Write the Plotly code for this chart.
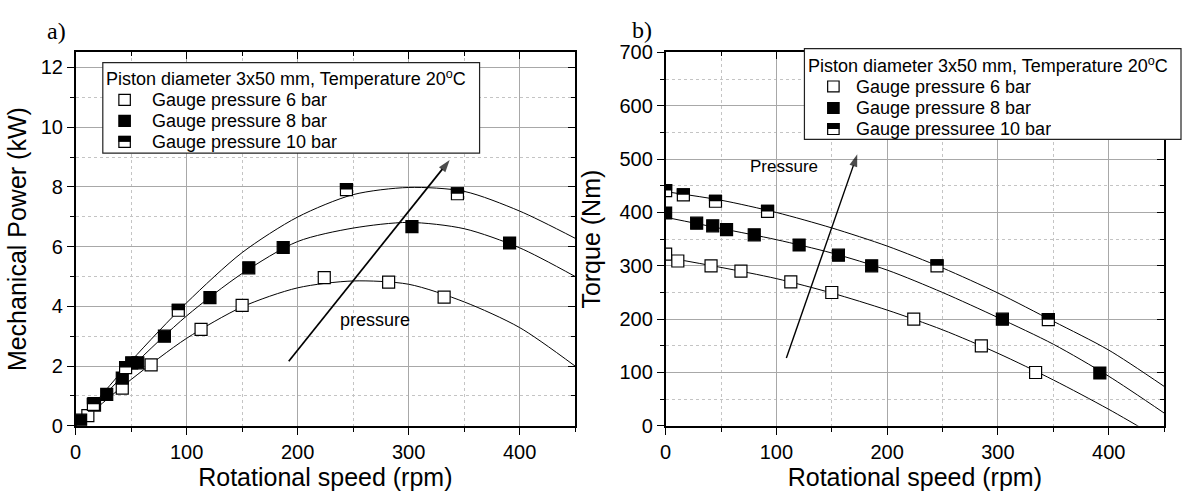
import plotly.graph_objects as go

W, H = 1182, 493

# ---------------- data ----------------
# panel a) mechanical power
speed_p6 = [11, 17, 42, 68, 113, 150, 224, 282, 332]
power_p6 = [0.34, 0.69, 1.26, 2.04, 3.23, 4.03, 4.96, 4.81, 4.31]
speed_p8 = [4.5, 16.5, 28, 42, 50.5, 56, 80, 121, 156, 187, 303, 391]
power_p8 = [0.19, 0.74, 1.05, 1.60, 2.11, 2.11, 3.00, 4.29, 5.29, 5.97, 6.67, 6.12]
speed_p10 = [16, 45, 92.5, 244, 344]
power_p10 = [0.72, 1.95, 3.87, 7.91, 7.77]

fit_speed = [0, 50, 100, 150, 200, 250, 300, 350, 400, 450]
fit_power6 = [0, 1.55, 2.93, 3.98, 4.62, 4.85, 4.74, 4.15, 3.29, 2.00]
fit_power8 = [0, 1.95, 3.68, 5.10, 6.17, 6.62, 6.81, 6.60, 5.96, 5.00]
fit_power10 = [0, 2.17, 4.12, 5.80, 6.99, 7.74, 7.98, 7.85, 7.19, 6.28]

# panel b) torque
speed_t6 = [0, 11, 41, 68, 113, 150, 224, 285, 334]
torque_t6 = [322, 309, 300, 290, 270, 250, 200, 150, 100]
speed_t8 = [0, 28, 42.5, 55, 80, 120.5, 156, 186, 304, 392]
torque_t8 = [399, 380, 375, 368, 358, 339, 320, 300, 200, 99]
speed_t10 = [0, 16, 45, 92, 245, 345.5]
torque_t10 = [441, 433, 421, 402, 300, 199]

fit_torque6 = [316, 297, 276, 249, 217, 180, 136, 86, 31, -29]
fit_torque8 = [391, 370, 349, 324, 292, 250, 203, 153, 93, 24]
fit_torque10 = [439, 423, 400, 371, 337, 296, 249, 196, 142, 74]

# "pressure" arrows: [tail, head]
arrow_power_speed = [192, 337]
arrow_power_value = [2.16, 8.9]
arrow_torque_speed = [109, 173]
arrow_torque_value = [127, 509]

legend_title = "Piston diameter 3x50 mm, Temperature 20<sup>o</sup>C"
legend_a = ["Gauge pressure 6 bar", "Gauge pressure 8 bar", "Gauge pressure 10 bar"]
legend_b = ["Gauge pressure 6 bar", "Gauge pressure 8 bar", "Gauge pressuree 10 bar"]

# ---------------- layout helpers ----------------
FONT = "Liberation Sans, Arial, sans-serif"
SERIF = "Liberation Serif, Times New Roman, serif"


def px(x):
    return x / W


def py(y):
    return 1 - y / H


dom_y = [py(434.2), py(43.4)]
dom_xa = [px(70), px(572)]
dom_xb = [px(663), px(1164)]

GRID = "#a8a8a8"
MINORGRID = "#c4c4c4"
MS = 12  # marker size


def base_axis(rng, dtick, mdtick, title, standoff):
    return dict(
        range=rng, dtick=dtick, tick0=0, autorange=False,
        showline=True, linecolor="black", linewidth=1.5, mirror=True,
        ticks="outside", ticklen=7, tickwidth=1.3, tickcolor="black",
        showgrid=True, gridcolor=GRID, gridwidth=1, zeroline=False,
        tickfont=dict(family=FONT, size=20, color="black"),
        title=dict(text=title, font=dict(family=FONT, size=25, color="black"),
                   standoff=standoff),
        minor=dict(dtick=mdtick, tick0=0, ticks="outside", ticklen=4,
                   tickwidth=1.1, tickcolor="black", showgrid=True,
                   gridcolor=MINORGRID, griddash="dot", gridwidth=1),
    )


def overlay_axis(rng, dtick, mdtick, side, over, anchor):
    return dict(
        range=rng, dtick=dtick, tick0=0, autorange=False, overlaying=over,
        side=side, anchor=anchor, showline=False, showgrid=False,
        zeroline=False, showticklabels=False,
        title=dict(text="\u00a0", font=dict(size=1, color="rgba(0,0,0,0)"),
                   standoff=0),
        ticks="inside", ticklen=7, tickwidth=1.3, tickcolor="black",
        minor=dict(dtick=mdtick, tick0=0, ticks="inside", ticklen=4,
                   tickwidth=1.1, tickcolor="black", showgrid=False),
    )


fig = go.Figure()


def add_panel(xa, ya, fit_vals, s6, v6, s8, v8, s10, v10, arr_s, arr_v, arr_w):
    for fv in fit_vals:
        fig.add_trace(go.Scatter(
            x=fit_speed, y=fv, mode="lines", xaxis=xa, yaxis=ya,
            line=dict(color="black", width=1, shape="spline", smoothing=0.8),
            showlegend=False, hoverinfo="skip"))
    # arrow
    fig.add_trace(go.Scatter(
        x=arr_s, y=arr_v, mode="lines+markers", xaxis=xa, yaxis=ya,
        line=dict(color="black", width=arr_w), showlegend=False,
        hoverinfo="skip",
        marker=dict(symbol=["circle", "arrow"], size=[0, 13], color="black",
                    angleref="previous", line=dict(width=0))))
    fig.add_trace(go.Scatter(
        x=s6, y=v6, mode="markers", xaxis=xa, yaxis=ya, showlegend=False,
        marker=dict(symbol="square", size=MS, color="white",
                    line=dict(color="black", width=1.2))))
    fig.add_trace(go.Scatter(
        x=s8, y=v8, mode="markers", xaxis=xa, yaxis=ya, showlegend=False,
        marker=dict(symbol="square", size=MS, color="black",
                    line=dict(color="black", width=1.2))))
    fig.add_trace(go.Scatter(
        x=s10, y=v10, mode="markers", xaxis=xa, yaxis=ya, showlegend=False,
        marker=dict(symbol="square", size=MS, color="white",
                    line=dict(color="black", width=1.2))))
    # black upper half of the 10 bar markers
    for sx, sv in zip(s10, v10):
        fig.add_shape(type="rect", xref=xa, yref=ya,
                      xsizemode="pixel", ysizemode="pixel",
                      xanchor=sx, yanchor=sv, x0=-MS / 2 - 0.6, x1=MS / 2 + 0.6,
                      y0=0, y1=MS / 2 + 0.6,
                      fillcolor="black", line=dict(width=0), layer="above")


add_panel("x", "y", [fit_power6, fit_power8, fit_power10],
          speed_p6, power_p6, speed_p8, power_p8, speed_p10, power_p10,
          arrow_power_speed, arrow_power_value, 1.7)
add_panel("x2", "y2", [fit_torque6, fit_torque8, fit_torque10],
          speed_t6, torque_t6, speed_t8, torque_t8, speed_t10, torque_t10,
          arrow_torque_speed, arrow_torque_value, 1.4)

# invisible traces so that the overlay (inner tick) axes exist
fig.add_trace(go.Scatter(x=[None], y=[None], xaxis="x3", yaxis="y3",
                         showlegend=False, hoverinfo="skip"))
fig.add_trace(go.Scatter(x=[None], y=[None], xaxis="x4", yaxis="y4",
                         showlegend=False, hoverinfo="skip"))

xa = base_axis([0, 450], 100, 50, "Rotational speed (rpm)", 0)
xa.update(domain=dom_xa, anchor="y")
ya = base_axis([0, 12.5], 2, 1, "Mechanical Power (kW)", 7)
ya.update(domain=dom_y, anchor="x")
xb = base_axis([0, 450], 100, 50, "Rotational speed (rpm)", 0)
xb.update(domain=dom_xb, anchor="y2")
yb = base_axis([0, 700], 100, 50, "Torque (Nm)", 12)
yb.update(domain=dom_y, anchor="x2")

fig.update_layout(
    width=W, height=H, autosize=False,
    margin=dict(l=0, r=0, t=0, b=0, pad=0),
    paper_bgcolor="white", plot_bgcolor="white",
    showlegend=False,
    xaxis=xa, yaxis=ya, xaxis2=xb, yaxis2=yb,
    xaxis3=overlay_axis([0, 450], 100, 50, "top", "x", "y3"),
    yaxis3=overlay_axis([0, 12.5], 2, 1, "right", "y", "x3"),
    xaxis4=overlay_axis([0, 450], 100, 50, "top", "x2", "y4"),
    yaxis4=overlay_axis([0, 700], 100, 50, "right", "y2", "x4"),
    font=dict(family=FONT, color="black"),
)

# arrow labels
fig.add_annotation(x=270, y=3.53, xref="x", yref="y", text="pressure",
                   showarrow=False, font=dict(family=FONT, size=18, color="black"))
fig.add_annotation(x=107, y=487, xref="x2", yref="y2", text="Pressure",
                   showarrow=False, font=dict(family=FONT, size=17, color="black"))

# panel letters
fig.add_annotation(x=px(39), y=py(21), xref="paper", yref="paper", text="a)",
                   showarrow=False, xanchor="left", yanchor="middle",
                   font=dict(family=SERIF, size=24, color="black"))
fig.add_annotation(x=px(627), y=py(20), xref="paper", yref="paper", text="b)",
                   showarrow=False, xanchor="left", yanchor="middle",
                   font=dict(family=SERIF, size=24, color="black"))


# hand-made legends (the 10 bar symbol is half filled)
def legend(box, title_xy, sym_x, text_x, rows, labels):
    x0, y0, x1, y1 = box
    fig.add_shape(type="rect", xref="paper", yref="paper",
                  x0=px(x0), x1=px(x1), y0=py(y1), y1=py(y0),
                  fillcolor="white", line=dict(color="#222", width=1.2),
                  layer="above")
    fig.add_annotation(x=px(title_xy[0]), y=py(title_xy[1]), xref="paper",
                       yref="paper", text=legend_title, showarrow=False,
                       xanchor="left", yanchor="middle", height=22,
                       font=dict(family=FONT, size=18, color="black"))
    s = 11.5 / 2
    for i, (ry, lab) in enumerate(zip(rows, labels)):
        fill = ["white", "black", "white"][i]
        fig.add_shape(type="rect", xref="paper", yref="paper",
                      x0=px(sym_x - s), x1=px(sym_x + s),
                      y0=py(ry + s), y1=py(ry - s), fillcolor=fill,
                      line=dict(color="black", width=1.2), layer="above")
        if i == 2:
            fig.add_shape(type="rect", xref="paper", yref="paper",
                          x0=px(sym_x - s - 0.5), x1=px(sym_x + s + 0.5),
                          y0=py(ry), y1=py(ry - s - 0.5), fillcolor="black",
                          line=dict(width=0), layer="above")
        fig.add_annotation(x=px(text_x), y=py(ry), xref="paper", yref="paper",
                           text=lab, showarrow=False, xanchor="left",
                           yanchor="middle", height=21,
                           font=dict(family=FONT, size=18, color="black"))


legend((97.3, 54, 476, 148.7), (99, 70), 119.2, 145, [93, 115, 137], legend_a)
legend((802.5, 39.3, 1181, 134.3), (804, 56), 831.6, 852, [79, 101.5, 123.5], legend_b)

fig.write_html("out.html", config={"displayModeBar": False},
               post_script="document.body.style.margin='0';document.body.style.overflow='hidden';")
